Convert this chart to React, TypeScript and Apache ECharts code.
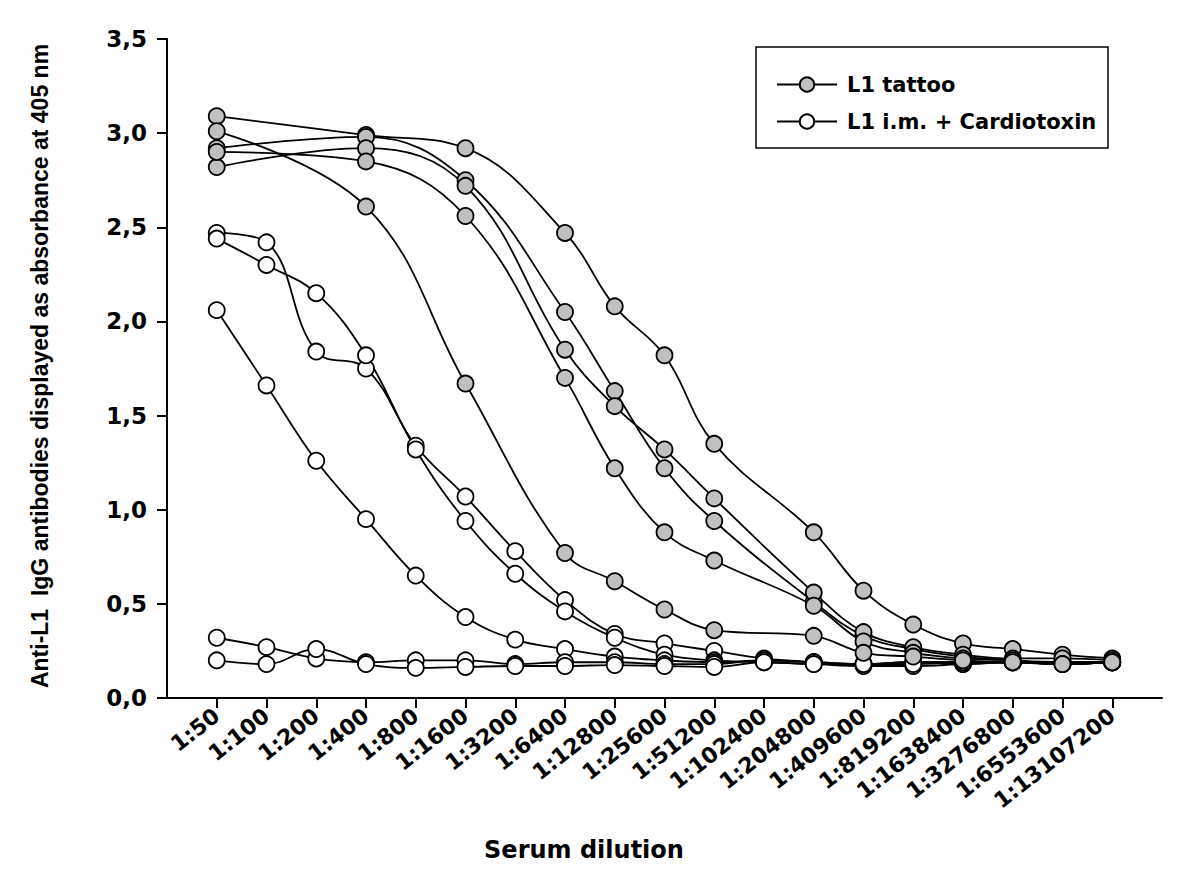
import React, { useEffect, useRef } from "react";
import * as echarts from "echarts";

const categories = [
  "1:50", "1:100", "1:200", "1:400", "1:800", "1:1600", "1:3200", "1:6400",
  "1:12800", "1:25600", "1:51200", "1:102400", "1:204800", "1:409600",
  "1:819200", "1:1638400", "1:3276800", "1:6553600", "1:13107200",
];

const yTicks = [0, 0.5, 1, 1.5, 2, 2.5, 3, 3.5];

// L1 tattoo (gray) — measured only at some dilutions
const tattooA = [3.09, null, null, 2.99, null, 2.92, null, 2.47, 2.08, 1.82, 1.35, null, 0.88, 0.57, 0.39, 0.29, 0.26, 0.23, 0.21];
const tattooB = [2.92, null, null, 2.98, null, 2.75, null, 2.05, 1.63, 1.22, 0.94, null, 0.51, 0.33, 0.26, 0.22, 0.2, 0.19, 0.19];
const tattooC = [2.82, null, null, 2.92, null, 2.72, null, 1.85, 1.55, 1.32, 1.06, null, 0.56, 0.35, 0.27, 0.23, 0.21, 0.21, 0.2];
const tattooD = [2.9, null, null, 2.85, null, 2.56, null, 1.7, 1.22, 0.88, 0.73, null, 0.49, 0.3, 0.24, 0.21, 0.2, 0.18, 0.19];
const tattooE = [3.01, null, null, 2.61, null, 1.67, null, 0.77, 0.62, 0.47, 0.36, null, 0.33, 0.24, 0.22, 0.2, 0.19, 0.18, 0.19];

// L1 i.m. + Cardiotoxin (white)
const cardioA = [2.47, 2.42, 1.84, 1.75, 1.34, 1.07, 0.78, 0.52, 0.34, 0.29, 0.25, 0.21, 0.19, 0.18, 0.19, 0.18, 0.19, 0.18, 0.19];
const cardioB = [2.44, 2.3, 2.15, 1.82, 1.32, 0.94, 0.66, 0.46, 0.32, 0.23, 0.2, 0.19, 0.18, 0.17, 0.17, 0.18, 0.19, 0.18, 0.19];
const cardioC = [2.06, 1.66, 1.26, 0.95, 0.65, 0.43, 0.31, 0.26, 0.22, 0.2, 0.19, 0.2, 0.19, 0.18, 0.19, 0.19, 0.19, 0.19, 0.19];
const cardioD = [0.32, 0.27, 0.21, 0.19, 0.2, 0.2, 0.18, 0.19, 0.19, 0.18, 0.18, 0.2, 0.19, 0.18, 0.19, 0.19, 0.19, 0.18, 0.19];
const cardioE = [0.2, 0.18, 0.26, 0.18, 0.16, 0.165, 0.17, 0.17, 0.175, 0.17, 0.165, 0.19, 0.18, 0.18, 0.18, 0.19, 0.19, 0.19, 0.19];

const tattooName = "L1 tattoo";
const cardioName = "L1 i.m. + Cardiotoxin";

const HFONT = "'DejaVu Sans', sans-serif";
const VFONT = "'Liberation Sans', Arial, sans-serif";

export default function App() {
  const ref = useRef<HTMLDivElement>(null);

  useEffect(() => {
    if (!ref.current) return;
    const chart = echarts.init(ref.current, null, { renderer: "svg" });

    // pad one empty slot on each side of the category axis
    const xData = ["", ...categories, ""];
    const pad = (arr: (number | null)[]) => [null, ...arr, null];

    const mkSeries = (name: string, data: (number | null)[], fill: string) => ({
      type: "line",
      name,
      data: pad(data),
      smooth: 0.4,
      connectNulls: true,
      symbol: "circle",
      symbolSize: 16,
      showSymbol: true,
      lineStyle: { color: "#000", width: 1.8 },
      itemStyle: { color: fill, borderColor: "#000", borderWidth: 1.8 },
      emphasis: { disabled: true },
    });

    const series = [
      mkSeries(cardioName, cardioA, "#ffffff"),
      mkSeries(cardioName, cardioB, "#ffffff"),
      mkSeries(cardioName, cardioC, "#ffffff"),
      mkSeries(cardioName, cardioD, "#ffffff"),
      mkSeries(cardioName, cardioE, "#ffffff"),
      mkSeries(tattooName, tattooA, "#c0c0c0"),
      mkSeries(tattooName, tattooB, "#c0c0c0"),
      mkSeries(tattooName, tattooC, "#c0c0c0"),
      mkSeries(tattooName, tattooD, "#c0c0c0"),
      mkSeries(tattooName, tattooE, "#c0c0c0"),
    ];

    chart.setOption({
      animation: false,
      backgroundColor: "#ffffff",
      grid: { left: 167, right: 38, top: 39, bottom: 190, containLabel: false },
      legend: {
        data: [tattooName, cardioName],
        orient: "vertical",
        left: 776,
        top: 74,
        padding: 0,
        itemWidth: 60,
        itemHeight: 18,
        itemGap: 16,
        textStyle: { fontFamily: HFONT, fontWeight: "bold", fontSize: 21, color: "#000", padding: [0, 0, 0, 5] },
        selectedMode: false,
      },
      xAxis: {
        type: "category",
        data: xData,
        boundaryGap: false,
        axisLine: { lineStyle: { color: "#000", width: 2 } },
        axisTick: {
          length: 10,
          lineStyle: { color: "#000", width: 2 },
          interval: (i: number) => i > 0 && i < xData.length - 1,
        },
        axisLabel: {
          interval: 0,
          rotate: 38,
          margin: 15,
          fontFamily: HFONT,
          fontWeight: "bold",
          fontSize: 22,
          color: "#000",
        },
        splitLine: { show: false },
      },
      yAxis: {
        type: "value",
        min: yTicks[0],
        max: yTicks[yTicks.length - 1],
        interval: 0.5,
        axisLine: { show: true, lineStyle: { color: "#000", width: 2 } },
        axisTick: { show: true, length: 10, lineStyle: { color: "#000", width: 2 } },
        axisLabel: {
          margin: 20,
          fontFamily: HFONT,
          fontWeight: "bold",
          fontSize: 23,
          color: "#000",
          formatter: (v: number) => v.toFixed(1).replace(".", ","),
        },
        splitLine: { show: false },
      },
      graphic: [
        {
          type: "rect",
          z: 1,
          shape: { x: 756, y: 47, width: 352, height: 101 },
          style: { fill: "none", stroke: "#000", lineWidth: 1.5 },
        },
        {
          type: "text",
          x: 584,
          y: 850,
          style: {
            text: "Serum dilution",
            fontFamily: HFONT,
            fontWeight: "bold",
            fontSize: 24,
            fill: "#000",
            align: "center",
            verticalAlign: "middle",
          },
        },
        {
          type: "text",
          x: 40,
          y: 366,
          rotation: Math.PI / 2,
          style: {
            text: "Anti-L1  IgG antibodies displayed as absorbance at 405 nm",
            fontFamily: VFONT,
            fontWeight: "bold",
            fontSize: 23,
            fill: "#000",
            align: "center",
            verticalAlign: "middle",
          },
        },
      ],
      series,
    });

    return () => chart.dispose();
  }, []);

  return (
    <div
      ref={ref}
      style={{ position: "fixed", left: 0, top: 0, width: 1200, height: 888, background: "#fff" }}
    />
  );
}
